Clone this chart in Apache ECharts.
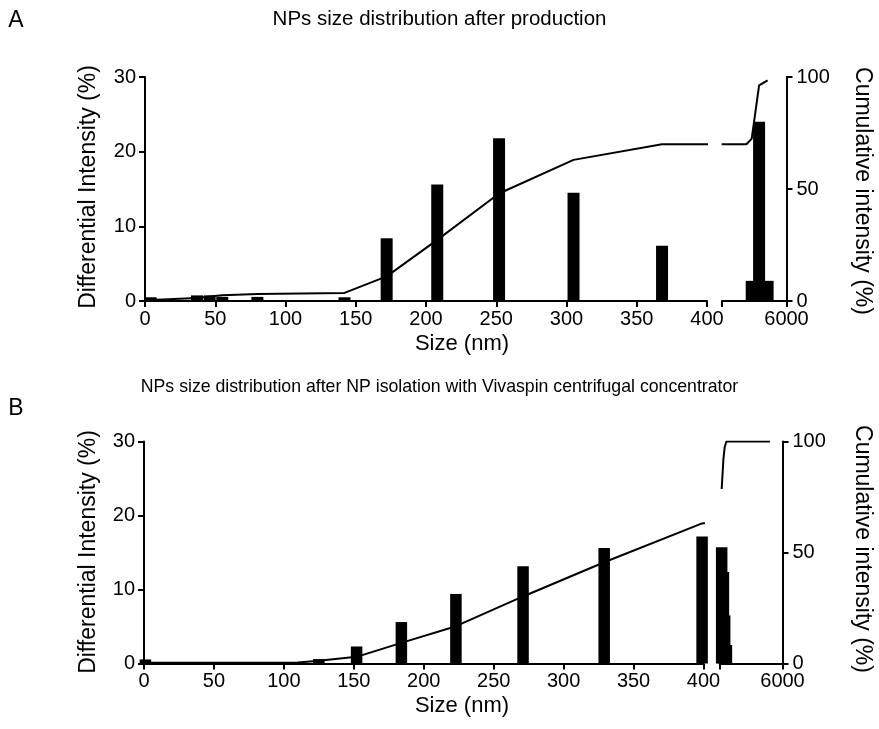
<!DOCTYPE html>
<html>
<head>
<meta charset="utf-8">
<script src="https://cdn.jsdelivr.net/npm/echarts@6/dist/echarts.min.js"></script>
<style>
  html, body { margin: 0; padding: 0; background: #fff; }
  #chart { width: 879px; height: 729px; }
</style>
</head>
<body>
<div id="chart"></div>
<script>
// ---- Panel A: NPs size distribution after production ----
// first axis segment (0–400 nm)
const sizeA1 = [4, 37, 46, 55, 80, 142, 172, 208, 252, 305, 368];
const diffA1 = [0.5, 0.75, 0.75, 0.55, 0.55, 0.5, 8.4, 15.6, 21.8, 14.5, 7.4];
const cumA1  = [0.5, 1.3, 2.0, 2.6, 3.1, 3.6, 11.0, 27.3, 48.0, 63.0, 70.0];
// second axis segment (400–6000 nm)
const sizeA2 = [2520, 2980, 3620, 4360];
const diffA2 = [0, 2.7, 24.0, 2.7];
const cumA2  = [70.0, 72.5, 96.3, 98.5];

// ---- Panel B: after NP isolation with Vivaspin ----
const sizeB1 = [1, 110, 125, 152, 184, 223, 271, 329, 399];
const diffB1 = [0.55, 0, 0.6, 2.3, 5.6, 9.4, 13.15, 15.6, 17.15];
const cumB1  = [0.3, 0.4, 1.2, 3.0, 9.3, 16.8, 30.2, 45.6, 63.1];
const sizeB2 = [550, 705, 820, 975, 4880];
const diffB2 = [15.7, 12.35, 6.5, 2.5, 0];
const cumB2  = [78.6, 92.0, 97.5, 100, 100];

// axis ranges and tick steps
const seg1Range = [0, 400];
const seg2Range = [400, 6000];
const diffRange = [0, 30];
const cumRange  = [0, 100];
const seg1Step = 50, diffStep = 10, cumStep = 50;

const titleA = 'NPs size distribution after production';
const titleB = 'NPs size distribution after NP isolation with Vivaspin centrifugal concentrator';
const xTitle = 'Size (nm)';
const yLeftTitle = 'Differential Intensity (%)';
const yRightTitle = 'Cumulative intensity (%)';

const FONT = '"Liberation Sans", Arial, Helvetica, sans-serif';
const INK = '#000';

const pair = (xs, ys) => xs.map((x, i) => [x, ys[i]]);

const axisLine = { show: true, lineStyle: { color: INK, width: 2 } };
const axisTick = { show: true, length: 6, lineStyle: { color: INK, width: 2 } };
const labelStyle = { color: INK, fontFamily: FONT, fontSize: 20 };

const option = {
  animation: false,
  backgroundColor: '#fff',
  title: [
    { text: titleA, left: 'center', top: 4,
      textStyle: { fontFamily: FONT, fontSize: 20.5, fontWeight: 'normal', color: INK } },
    { text: titleB, left: 'center', top: 373,
      textStyle: { fontFamily: FONT, fontSize: 17.7, fontWeight: 'normal', color: INK } }
  ],
  grid: [],
  xAxis: [],
  yAxis: [],
  series: [],
  graphic: []
};

// one panel = two grids side by side (broken x axis)
function addPanel(p) {
  const gi = option.grid.length;
  const yi = option.yAxis.length;
  const [g1, g2] = p.grids;
  option.grid.push(
    { left: g1[0], top: g1[1], width: g1[2], height: g1[3], outerBoundsMode: 'none', containLabel: false },
    { left: g2[0], top: g2[1], width: g2[2], height: g2[3], outerBoundsMode: 'none', containLabel: false }
  );
  option.xAxis.push(
    { type: 'value', gridIndex: gi, min: seg1Range[0], max: seg1Range[1], interval: seg1Step,
      axisLine, axisTick, splitLine: { show: false },
      axisLabel: Object.assign({ margin: 8, showMinLabel: true, showMaxLabel: true }, labelStyle) },
    { type: 'value', gridIndex: gi + 1, min: seg2Range[0], max: seg2Range[1],
      interval: seg2Range[1] - seg2Range[0],
      axisLine, axisTick, splitLine: { show: false },
      axisLabel: Object.assign({ margin: 8, showMinLabel: true, showMaxLabel: true,
        formatter: v => (v === seg2Range[1] ? String(v) : '') }, labelStyle) }
  );
  option.yAxis.push(
    // left: differential intensity (drawn on first segment)
    { type: 'value', gridIndex: gi, position: 'left', min: diffRange[0], max: diffRange[1], interval: diffStep,
      axisLine, axisTick, splitLine: { show: false },
      axisLabel: Object.assign({ margin: 9 }, labelStyle) },
    // hidden cumulative scale for the first segment
    { type: 'value', gridIndex: gi, position: 'right', min: cumRange[0], max: cumRange[1], show: false },
    // hidden differential scale for the second segment
    { type: 'value', gridIndex: gi + 1, position: 'left', min: diffRange[0], max: diffRange[1], show: false },
    // right: cumulative intensity (drawn on second segment)
    { type: 'value', gridIndex: gi + 1, position: 'right', min: cumRange[0], max: cumRange[1], interval: cumStep,
      axisLine, axisTick, splitLine: { show: false },
      axisLabel: Object.assign({ margin: 10 }, labelStyle) }
  );

  const barStyle = { color: INK };
  const lineStyle = { color: INK, width: 2 };
  const seg1Line = pair(p.size1, p.cum1).concat([[p.size2[0], p.cum2[0]]]);
  const seg2Line = (p.bridgeIn ? [[p.size1[p.size1.length - 1], p.cum1[p.cum1.length - 1]]] : [])
    .concat(pair(p.size2, p.cum2));

  option.series.push(
    { type: 'bar', xAxisIndex: gi, yAxisIndex: yi, data: pair(p.size1, p.diff1),
      barWidth: p.barWidth, itemStyle: barStyle, z: 2 },
    { type: 'bar', xAxisIndex: gi + 1, yAxisIndex: yi + 2, data: pair(p.size2, p.diff2),
      barWidth: p.barWidth, itemStyle: barStyle, clip: false, z: 2 },
    { type: 'line', xAxisIndex: gi, yAxisIndex: yi + 1, data: seg1Line,
      showSymbol: false, symbol: 'none', lineStyle, clip: true, z: 3 },
    { type: 'line', xAxisIndex: gi + 1, yAxisIndex: yi + 3, data: seg2Line,
      showSymbol: false, symbol: 'none', lineStyle, clip: true, z: 3 }
  );

  const txt = (text, x, y, rot, size) => ({
    type: 'text', x, y, rotation: rot,
    style: { text, fill: INK, font: size + 'px ' + FONT, align: 'center', verticalAlign: 'middle' }
  });
  option.graphic.push(
    txt(p.letter, p.letterPos[0], p.letterPos[1], 0, 23),
    txt(xTitle, p.xTitlePos[0], p.xTitlePos[1], 0, 22),
    txt(yLeftTitle, p.leftTitlePos[0], p.leftTitlePos[1], Math.PI / 2, 23),
    txt(yRightTitle, p.rightTitlePos[0], p.rightTitlePos[1], -Math.PI / 2, 23)
  );
}

addPanel({
  letter: 'A', letterPos: [16, 21],
  grids: [[145, 77, 562, 224], [722, 77, 64.5, 224]],
  size1: sizeA1, diff1: diffA1, cum1: cumA1,
  size2: sizeA2, diff2: diffA2, cum2: cumA2,
  barWidth: 12, bridgeIn: true,
  xTitlePos: [462, 344], leftTitlePos: [89, 187], rightTitlePos: [862, 191]
});

addPanel({
  letter: 'B', letterPos: [16, 409],
  grids: [[144, 441.5, 559.5, 222], [720, 441.5, 62.5, 222]],
  size1: sizeB1, diff1: diffB1, cum1: cumB1,
  size2: sizeB2, diff2: diffB2, cum2: cumB2,
  barWidth: 11.5, bridgeIn: false,
  xTitlePos: [462, 706], leftTitlePos: [89, 552], rightTitlePos: [862, 549]
});

const chart = echarts.init(document.getElementById('chart'), null, { renderer: 'canvas' });
chart.setOption(option);
</script>
</body>
</html>
